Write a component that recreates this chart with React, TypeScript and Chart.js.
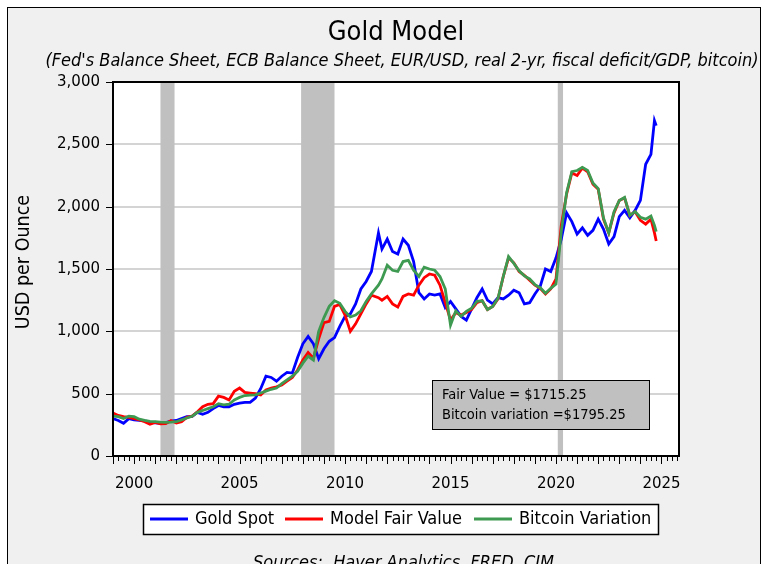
import React, { useEffect, useRef } from "react";
import { Chart, registerables } from "chart.js";

Chart.register(...registerables);

// ---------- DATA ----------
const dates = [
  "1999-01", "1999-04", "1999-07", "1999-10",
  "2000-01", "2000-04", "2000-07", "2000-10",
  "2001-01", "2001-04", "2001-07", "2001-10",
  "2002-01", "2002-04", "2002-07", "2002-10",
  "2003-01", "2003-04", "2003-07", "2003-10",
  "2004-01", "2004-04", "2004-07", "2004-10",
  "2005-01", "2005-04", "2005-07", "2005-10",
  "2006-01", "2006-04", "2006-07", "2006-10",
  "2007-01", "2007-04", "2007-07", "2007-10",
  "2008-01", "2008-04", "2008-07", "2008-10",
  "2009-01", "2009-04", "2009-07", "2009-10",
  "2010-01", "2010-04", "2010-07", "2010-10",
  "2011-01", "2011-04", "2011-08", "2011-10",
  "2012-01", "2012-04", "2012-07", "2012-10",
  "2013-01", "2013-04", "2013-07", "2013-10",
  "2014-01", "2014-04", "2014-07", "2014-10",
  "2015-01", "2015-04", "2015-07", "2015-10",
  "2016-01", "2016-04", "2016-07", "2016-10",
  "2017-01", "2017-04", "2017-07", "2017-10",
  "2018-01", "2018-04", "2018-07", "2018-10",
  "2019-01", "2019-04", "2019-07", "2019-10",
  "2020-01", "2020-04", "2020-07", "2020-10",
  "2021-01", "2021-04", "2021-07", "2021-10",
  "2022-01", "2022-04", "2022-07", "2022-10",
  "2023-01", "2023-04", "2023-07", "2023-10",
  "2024-01", "2024-04", "2024-07", "2024-09", "2024-10",
];

const goldSpot = [
  300, 285, 262, 300,
  290, 285, 282, 272,
  265, 262, 268, 280,
  285, 300, 315, 318,
  350, 335, 350, 380,
  405, 395, 395, 415,
  425, 430, 430, 465,
  540, 640, 630, 600,
  640, 670, 665, 790,
  900, 960, 900, 780,
  860, 920, 950, 1040,
  1120, 1140, 1220, 1340,
  1400, 1480, 1790, 1660,
  1740, 1640, 1620, 1740,
  1690, 1560, 1310, 1260,
  1300, 1290, 1300, 1190,
  1240, 1180, 1120, 1090,
  1180, 1270, 1340, 1250,
  1220, 1270, 1260, 1290,
  1330, 1310, 1220, 1230,
  1300, 1360, 1500, 1480,
  1590, 1740, 1950, 1880,
  1780, 1830, 1770, 1810,
  1900, 1820, 1700, 1760,
  1920, 1970, 1910, 1970,
  2050, 2340, 2420, 2690, 2650,
];

const modelFairValue = [
  345, 325, 315, 310,
  300, 290, 275, 255,
  270, 258, 260, 285,
  265, 275, 310, 320,
  355, 395, 415, 420,
  480, 470, 450, 520,
  545, 510, 505, 500,
  490, 530, 545, 555,
  570, 600, 630, 690,
  770, 830, 785, 940,
  1070, 1080, 1200, 1215,
  1130, 1000, 1060, 1140,
  1220, 1290, 1270, 1250,
  1280, 1220, 1195, 1280,
  1300, 1290, 1370, 1430,
  1460, 1450, 1370, 1230,
  1090, 1150, 1130, 1150,
  1175, 1230, 1245, 1175,
  1200, 1260, 1440, 1590,
  1550, 1480, 1450, 1410,
  1370, 1345, 1300, 1340,
  1420, 1850, 2100, 2270,
  2250, 2310, 2280, 2180,
  2140, 1900, 1790, 1950,
  2050, 2070, 1930, 1960,
  1890, 1860, 1900, 1790, 1725,
];

const bitcoinVariation = [
  320, 315, 300, 320,
  315, 295, 285, 278,
  275, 272, 270, 272,
  275, 290, 305, 318,
  350, 365, 380, 395,
  420, 410, 415, 450,
  470, 485, 488, 490,
  505, 520, 535, 545,
  580, 610, 640, 680,
  745, 800, 770, 1000,
  1110, 1200, 1245, 1225,
  1160, 1115, 1130, 1165,
  1240, 1300, 1370, 1420,
  1530, 1490, 1480, 1560,
  1570, 1490, 1440, 1515,
  1500, 1490, 1440, 1340,
  1050, 1165, 1120, 1160,
  1185, 1240, 1245, 1175,
  1200, 1265, 1440, 1600,
  1545, 1485, 1445, 1420,
  1375, 1350, 1305, 1345,
  1380, 1800, 2110, 2280,
  2290, 2315, 2290, 2190,
  2145, 1910, 1790, 1960,
  2050, 2075, 1930, 1960,
  1915, 1900, 1925, 1850, 1800,
];

const recessions: [string, string][] = [
  ["2001-04", "2001-12"],
  ["2007-12", "2009-07"],
  ["2020-02", "2020-05"],
];

const xTickYears = [2000, 2005, 2010, 2015, 2020, 2025];
const yTicks = [0, 500, 1000, 1500, 2000, 2500, 3000];
const seriesNames = ["Gold Spot", "Model Fair Value", "Bitcoin Variation"];
const seriesColors = ["#0000ff", "#ff0000", "#3d9a50"];
const titleText = "Gold Model";
const subtitleText =
  "(Fed's Balance Sheet, ECB Balance Sheet, EUR/USD, real 2-yr, fiscal deficit/GDP, bitcoin)";
const yAxisTitle = "USD per Ounce";
const noteLines = ["Fair Value = $1715.25", "Bitcoin variation =$1795.25"];
const sourcesText = "Sources:  Haver Analytics, FRED, CIM";

// ---------- HELPERS ----------
const toYear = (s: string) =>
  Number(s.slice(0, 4)) + (Number(s.slice(5, 7)) - 1) / 12;
const X_MIN = toYear("1999-01");
const X_MAX = 2025.83;

const FONT = '"DejaVu Sans Condensed", "DejaVu Sans", sans-serif';
const TICK_FONT = '"DejaVu Sans", sans-serif';

const decorPlugin = {
  id: "decor",
  beforeDraw(chart: any) {
    const { ctx, chartArea: a } = chart;
    ctx.save();
    ctx.fillStyle = "#ffffff";
    ctx.fillRect(0, 0, chart.width, chart.height);
    ctx.fillStyle = "#f0f0f0";
    ctx.fillRect(7, 7, 754, 600);
    ctx.strokeStyle = "#000";
    ctx.lineWidth = 1;
    ctx.strokeRect(7.5, 7.5, 753, 600);
    ctx.fillStyle = "#ffffff";
    ctx.fillRect(a.left, a.top, a.right - a.left, a.bottom - a.top);
    ctx.restore();
  },
  beforeDatasetsDraw(chart: any) {
    const { ctx, chartArea: a } = chart;
    const xs = chart.scales.x;
    ctx.save();
    ctx.fillStyle = "#c0c0c0";
    for (const [s, e] of recessions) {
      const x0 = xs.getPixelForValue(toYear(s));
      const x1 = xs.getPixelForValue(toYear(e));
      ctx.fillRect(x0, a.top, x1 - x0, a.bottom - a.top);
    }
    ctx.restore();
  },
  afterDraw(chart: any) {
    const { ctx, chartArea: a } = chart;
    const xs = chart.scales.x;
    const ys = chart.scales.y;
    ctx.save();
    // plot frame
    ctx.strokeStyle = "#000";
    ctx.lineWidth = 2;
    ctx.strokeRect(a.left, a.top, a.right - a.left, a.bottom - a.top);

    // y tick marks
    ctx.lineWidth = 1;
    ctx.beginPath();
    for (const v of yTicks) {
      const y = Math.round(ys.getPixelForValue(v)) + 0.5;
      ctx.moveTo(a.left - 7, y);
      ctx.lineTo(a.left, y);
    }
    ctx.stroke();

    // x tick marks: years long, quarters short
    ctx.beginPath();
    for (let yr = Math.ceil(X_MIN); yr <= Math.floor(X_MAX); yr++) {
      for (let q = 0; q < 4; q++) {
        const v = yr + q / 4;
        if (v < X_MIN || v > X_MAX) continue;
        const x = Math.round(xs.getPixelForValue(v)) + 0.5;
        ctx.moveTo(x, a.bottom);
        ctx.lineTo(x, a.bottom + (q === 0 ? 8 : 5));
      }
    }
    ctx.stroke();

    // title
    ctx.fillStyle = "#000";
    ctx.textAlign = "center";
    ctx.textBaseline = "alphabetic";
    ctx.font = `27px ${FONT}`;
    ctx.fillText(titleText, (a.left + a.right) / 2, 40);
    ctx.font = `italic 18px ${FONT}`;
    ctx.fillText(subtitleText, 402, 66);

    // y axis title
    ctx.save();
    ctx.translate(24, 262);
    ctx.rotate(-Math.PI / 2);
    ctx.font = `19.5px ${FONT}`;
    ctx.textBaseline = "middle";
    ctx.fillText(yAxisTitle, 0, 0);
    ctx.restore();

    // annotation box
    ctx.fillStyle = "#c0c0c0";
    ctx.fillRect(432, 380, 218, 50);
    ctx.strokeStyle = "#000";
    ctx.lineWidth = 1;
    ctx.strokeRect(432.5, 380.5, 217, 49);
    ctx.fillStyle = "#000";
    ctx.textAlign = "left";
    ctx.font = `14.5px ${FONT}`;
    ctx.fillText(noteLines[0], 442, 399);
    ctx.fillText(noteLines[1], 442, 419);

    // legend
    ctx.fillStyle = "#ffffff";
    ctx.fillRect(143, 504, 516, 31);
    ctx.strokeStyle = "#000";
    ctx.lineWidth = 1.5;
    ctx.strokeRect(143.5, 504.5, 515, 30);
    const legendX = [150, 285, 474];
    ctx.font = `18px ${FONT}`;
    ctx.textBaseline = "middle";
    seriesNames.forEach((name, i) => {
      ctx.strokeStyle = seriesColors[i];
      ctx.lineWidth = 3;
      ctx.beginPath();
      ctx.moveTo(legendX[i], 519);
      ctx.lineTo(legendX[i] + 38, 519);
      ctx.stroke();
      ctx.fillStyle = "#000";
      ctx.fillText(name, legendX[i] + 45, 519);
    });

    // sources
    ctx.textBaseline = "alphabetic";
    ctx.font = `italic 18px ${FONT}`;
    ctx.fillText(sourcesText, 253, 568);
    ctx.restore();
  },
};

export default function App() {
  const canvasRef = useRef<HTMLCanvasElement | null>(null);

  useEffect(() => {
    const canvas = canvasRef.current;
    if (!canvas) return;
    const xVals = dates.map(toYear);
    const mk = (vals: number[]) => vals.map((v, i) => ({ x: xVals[i], y: v }));
    const chart = new Chart(canvas, {
      type: "line",
      data: {
        datasets: [
          { label: seriesNames[0], data: mk(goldSpot), borderColor: seriesColors[0], order: 2 },
          { label: seriesNames[1], data: mk(modelFairValue), borderColor: seriesColors[1], order: 1 },
          { label: seriesNames[2], data: mk(bitcoinVariation), borderColor: seriesColors[2], order: 0 },
        ].map((d) => ({
          ...d,
          borderWidth: 2.8,
          pointRadius: 0,
          tension: 0,
          fill: false,
        })),
      },
      options: {
        responsive: false,
        animation: false,
        devicePixelRatio: 1,
        layout: { padding: { top: 82, right: 89, left: 0, bottom: 0 } },
        plugins: {
          legend: { display: false },
          tooltip: { enabled: false },
          title: { display: false },
        },
        scales: {
          x: {
            type: "linear",
            min: X_MIN,
            max: X_MAX,
            grid: { display: false },
            border: { display: false },
            afterBuildTicks: (s: any) => {
              s.ticks = xTickYears.map((v) => ({ value: v }));
            },
            afterFit: (s: any) => {
              s.height = 108;
            },
            ticks: {
              autoSkip: false,
              maxRotation: 0,
              padding: 11,
              color: "#000",
              font: { family: TICK_FONT, size: 15 },
              callback: (v: any) => String(v),
            },
          },
          y: {
            min: 0,
            max: 3000,
            grid: { color: "#d4d4d4", lineWidth: 2, drawTicks: false },
            border: { display: false },
            afterBuildTicks: (s: any) => {
              s.ticks = yTicks.map((v) => ({ value: v }));
            },
            afterFit: (s: any) => {
              s.width = 113;
            },
            ticks: {
              padding: 13,
              color: "#000",
              font: { family: TICK_FONT, size: 15 },
              callback: (v: any) => Number(v).toLocaleString("en-US"),
            },
          },
        },
      },
      plugins: [decorPlugin],
    } as any);
    return () => chart.destroy();
  }, []);

  return (
    <div style={{ position: "absolute", left: 0, top: 0, width: 768, height: 564 }}>
      <canvas ref={canvasRef} width={768} height={564} style={{ display: "block" }} />
    </div>
  );
}
